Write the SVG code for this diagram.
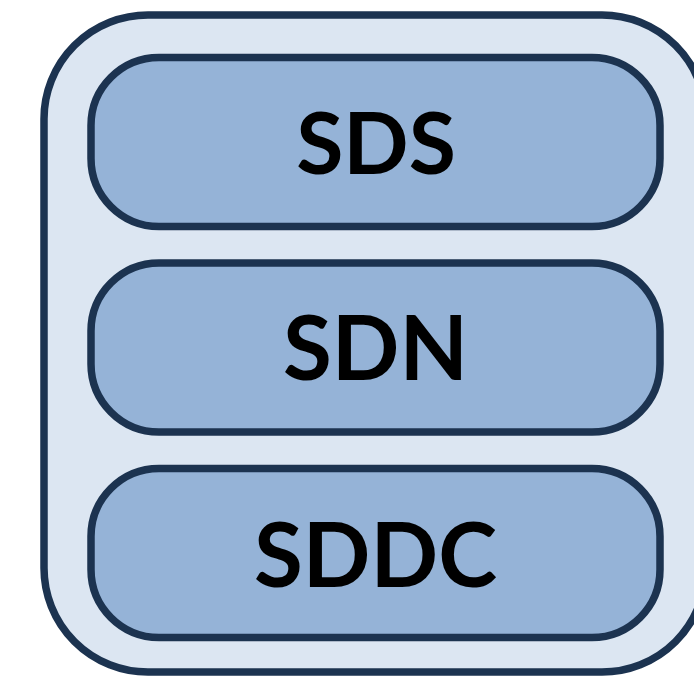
<svg xmlns="http://www.w3.org/2000/svg" width="694" height="679" viewBox="0 0 694 679">
<style>
.outer{fill:#dce6f2;stroke:#1c3350;stroke-width:7.5}
.pill{fill:#95b3d7;stroke:#1c3350;stroke-width:7.5}
.lbl{font-family:Lato,"Liberation Sans",sans-serif;font-weight:bold;fill:#000;text-anchor:middle}
</style>
<g id="container"><rect class="outer" x="44" y="15" width="662" height="657" rx="104" ry="104"/></g>
<g id="sds"><rect class="pill" x="91" y="57.5" width="569" height="169" rx="68" ry="68"/><text class="lbl" x="376" y="174" font-size="86">SDS</text></g>
<g id="sdn"><rect class="pill" x="91" y="263" width="569" height="169" rx="68" ry="68"/><text class="lbl" x="375.5" y="379.5" font-size="89">SDN</text></g>
<g id="sddc"><rect class="pill" x="91" y="468.5" width="569" height="169" rx="68" ry="68"/><text class="lbl" x="375.5" y="587" font-size="89">SDDC</text></g>
<g id="connectors"></g>
</svg>
